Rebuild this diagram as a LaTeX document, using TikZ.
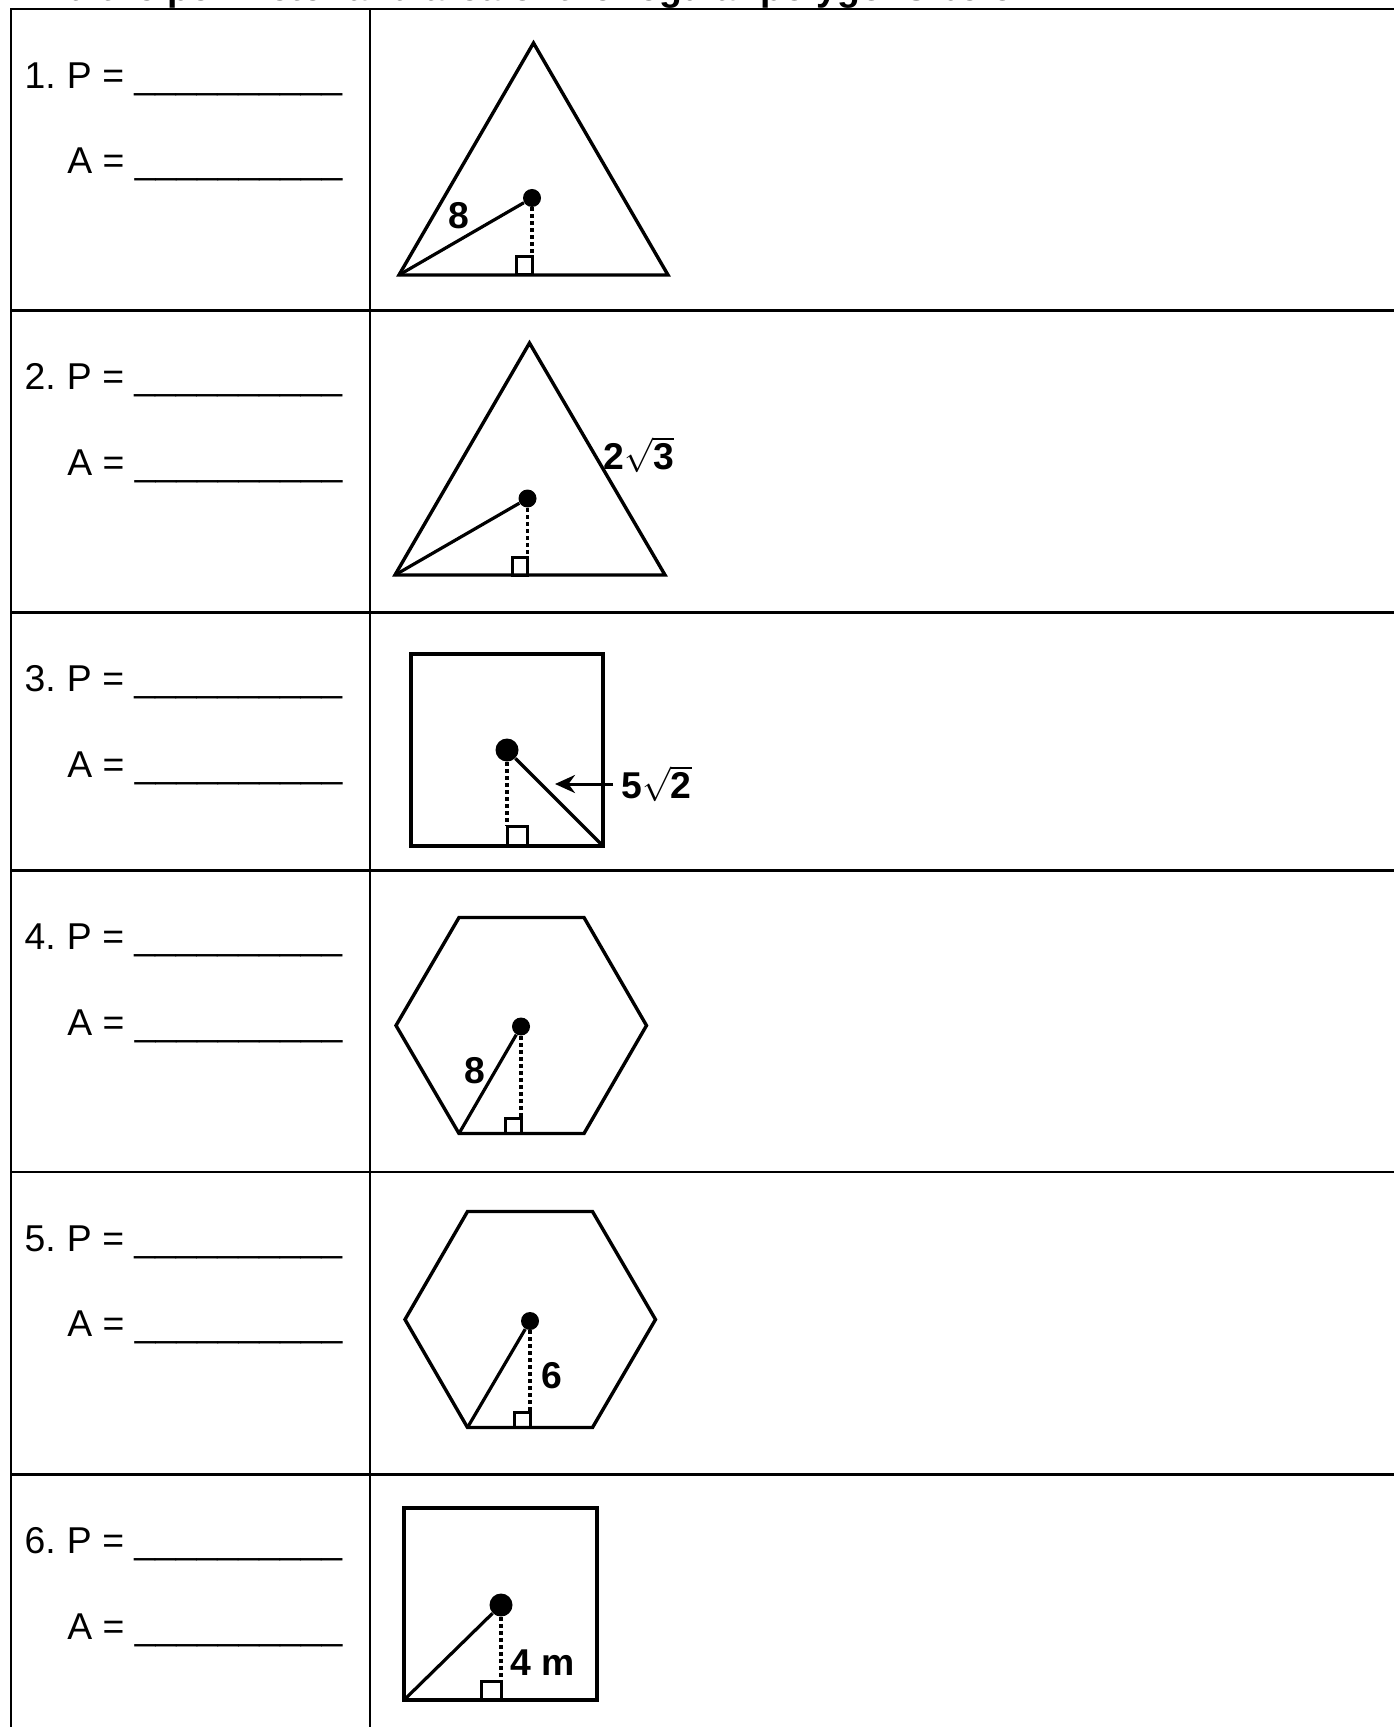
\documentclass[tikz,border=0pt]{standalone}
\usepackage{fontspec}
\setmainfont{Liberation Sans}
\usetikzlibrary{arrows.meta,positioning}

\newcommand{\answerline}{\_\_\_\_\_\_\_\_\_\_}
\newcommand{\itemno}[1]{\makebox[21.2pt][l]{#1.}}

\begin{document}
\begin{tikzpicture}[
    x=0.5pt, y=-0.5pt,
    grid/.style={line width=1.2pt},
    outline/.style={line width=1.7pt},
    rad/.style={line width=1.6pt},
    apo/.style={line width=1.7pt, dash pattern=on 1.8pt off 1.7pt},
    rmark/.style={line width=1.5pt},
    ctr/.style={circle, fill, inner sep=0pt, minimum size=9pt},
    bigctr/.style={circle, fill, inner sep=0pt, minimum size=11.5pt},
    ask/.style={anchor=base west, inner sep=0pt, font=\fontsize{18.67}{22}\selectfont},
    len/.style={inner sep=0pt, font=\fontsize{18.67}{22}\selectfont\bfseries},
    >={Stealth[length=10pt,width=9pt]}
  ]
  \useasboundingbox (0,0) rectangle (1394,1727);

  \node[anchor=base west, inner sep=0pt, font=\fontsize{18.67}{22}\selectfont\bfseries] (title) at (11.4,1) {Find the perimeter and area of the regular polygons below.};

  \draw[grid] (11,1727) -- (11,9) -- (1394,9);
  \draw[grid] (370,9) -- (370,1727);
  \draw[grid] (11,310.5) -- (1394,310.5);
  \draw[grid] (11,612.5) -- (1394,612.5);
  \draw[grid] (11,870.5) -- (1394,870.5);
  \draw[grid] (11,1172) -- (1394,1172);
  \draw[grid] (11,1474.5) -- (1394,1474.5);

  \node[ask] (per1) at (24.2,88.3) {\itemno{1}P = \answerline};
  \node[ask] (area1) at (67,173.5) {A = \answerline};
  \node[ask] (per2) at (24.2,389.8) {\itemno{2}P = \answerline};
  \node[ask] (area2) at (67,475) {A = \answerline};
  \node[ask] (per3) at (24.2,691.8) {\itemno{3}P = \answerline};
  \node[ask] (area3) at (67,777) {A = \answerline};
  \node[ask] (per4) at (24.2,949.8) {\itemno{4}P = \answerline};
  \node[ask] (area4) at (67,1035) {A = \answerline};
  \node[ask] (per5) at (24.2,1251.3) {\itemno{5}P = \answerline};
  \node[ask] (area5) at (67,1336.5) {A = \answerline};
  \node[ask] (per6) at (24.2,1553.5) {\itemno{6}P = \answerline};
  \node[ask] (area6) at (67,1639.5) {A = \answerline};

  \coordinate (t1a) at (399,275);
  \coordinate (t1b) at (668,275);
  \coordinate (t1c) at (533.5,43);
  \draw[outline] (t1a) -- (t1b) -- (t1c) -- cycle;
  \node[ctr] (ctr1) at (532,198) {};
  \coordinate (foot1) at (532,257);
  \draw[rmark] (foot1) rectangle ++(-16,18);
  \draw[apo] (ctr1) -- (foot1);
  \draw[rad] (t1a) -- (ctr1);
  \node[len] (len1) at (459,216) {8};

  \coordinate (t2a) at (395,575);
  \coordinate (t2b) at (665,575);
  \coordinate (t2c) at (529.5,343);
  \draw[outline] (t2a) -- (t2b) -- (t2c) -- cycle;
  \node[ctr] (ctr2) at (527.5,498.5) {};
  \coordinate (foot2) at (527.5,557);
  \draw[rmark] (foot2) rectangle ++(-15,18);
  \draw[apo] (ctr2) -- (foot2);
  \draw[rad] (t2a) -- (ctr2);
  \node[len] (len2) at (639,455) {2$\sqrt{\textbf{3}}$};

  \coordinate (s3a) at (411,846);
  \coordinate (s3b) at (603,846);
  \coordinate (s3c) at (603,654);
  \coordinate (s3d) at (411,654);
  \draw[outline] (s3a) -- (s3b) -- (s3c) -- (s3d) -- cycle;
  \node[bigctr] (ctr3) at (507,750) {};
  \coordinate (foot3) at (507,826);
  \draw[rmark] (foot3) rectangle ++(20,20);
  \draw[apo] (ctr3) -- (foot3);
  \draw[rad] (ctr3) -- (s3b);
  \node[len, anchor=west, inner xsep=4pt] (len3) at (613,784) {5$\sqrt{\textbf{2}}$};
  \coordinate (tip3) at (555,784);
  \draw[->, line width=1.5pt] (len3.west) -- (tip3);

  \coordinate (h4a) at (459,1133.5);
  \coordinate (h4b) at (584,1133.5);
  \coordinate (h4c) at (646.5,1025.5);
  \coordinate (h4d) at (584,917.5);
  \coordinate (h4e) at (459,917.5);
  \coordinate (h4f) at (396,1025.5);
  \draw[outline] (h4a) -- (h4b) -- (h4c) -- (h4d) -- (h4e) -- (h4f) -- cycle;
  \node[ctr] (ctr4) at (521,1026.5) {};
  \coordinate (foot4) at (521,1118.5);
  \draw[rmark] (foot4) rectangle ++(-15.5,15);
  \draw[apo] (ctr4) -- (foot4);
  \draw[rad] (h4a) -- (ctr4);
  \node[len] (len4) at (475,1071) {8};

  \coordinate (h5a) at (467.5,1427.5);
  \coordinate (h5b) at (592.5,1427.5);
  \coordinate (h5c) at (655.5,1319.5);
  \coordinate (h5d) at (592.5,1211.5);
  \coordinate (h5e) at (467.5,1211.5);
  \coordinate (h5f) at (405,1319.5);
  \draw[outline] (h5a) -- (h5b) -- (h5c) -- (h5d) -- (h5e) -- (h5f) -- cycle;
  \node[ctr] (ctr5) at (530,1321) {};
  \coordinate (foot5) at (530,1412);
  \draw[rmark] (foot5) rectangle ++(-15.5,15.5);
  \draw[apo] (ctr5) -- (foot5);
  \draw[rad] (h5a) -- (ctr5);
  \node[len] (len5) at (552,1376) {6};

  \coordinate (s6a) at (404,1700);
  \coordinate (s6b) at (597,1700);
  \coordinate (s6c) at (597,1508);
  \coordinate (s6d) at (404,1508);
  \draw[outline] (s6a) -- (s6b) -- (s6c) -- (s6d) -- cycle;
  \node[bigctr] (ctr6) at (501,1605) {};
  \coordinate (foot6) at (501,1681);
  \draw[rmark] (foot6) rectangle ++(-20,19);
  \draw[apo] (ctr6) -- (foot6);
  \draw[rad] (s6a) -- (ctr6);
  \node[len] (len6) at (543,1663) {4 m};
\end{tikzpicture}
\end{document}
